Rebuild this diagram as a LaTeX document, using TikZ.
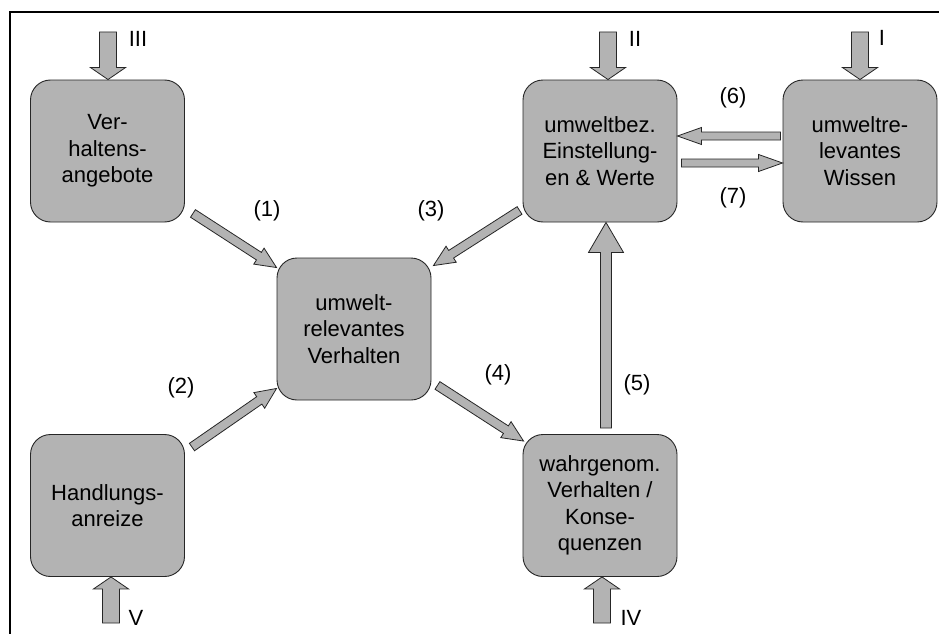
\documentclass[tikz,border=0pt]{standalone}
\usepackage{fontspec}
\setmainfont{Liberation Sans}
\usetikzlibrary{calc}
\definecolor{boxgray}{RGB}{179,179,179}
\newcommand\fatarrow[5]{%
  \coordinate (fa-h) at ($(#2)!#5!(#1)$);
  \draw[arrowshape] ($(#1)!#3!90:(#2)$) -- ($(fa-h)!#3!90:(#2)$) -- ($(fa-h)!#4!90:(#2)$)
    -- (#2) -- ($(fa-h)!#4!-90:(#2)$) -- ($(fa-h)!#3!-90:(#2)$) -- ($(#1)!#3!-90:(#2)$) -- cycle;}
\begin{document}
\begin{tikzpicture}[x=1pt,y=-1pt,
  box/.style={draw=black!85,line width=0.9pt,fill=boxgray,rounded corners=20pt,
    minimum width=154pt,minimum height=142pt,inner sep=0pt,align=center,
    font=\fontsize{22}{26.5}\selectfont},
  lbl/.style={inner sep=0pt,font=\fontsize{22}{26}\selectfont},
  arrowshape/.style={draw=black!85,line width=0.8pt,fill=boxgray,line join=miter}]
\useasboundingbox (0,0) rectangle (939,634);
\fill[white] (0,0) rectangle (939,634);
\draw[line width=1.5pt] (939,12) -- (10,12) -- (10,634);

% boxes
\node[box] (verh) at (107.5,151) {Ver-\\haltens-\\angebote};
\node[box] (mid) at (354,329) {umwelt-\\relevantes\\Verhalten};
\node[box] (hand) at (107.5,505.5) {Handlungs-\\anreize};
\node[box] (wahr) at (600,505.5) {wahrgenom.\\Verhalten /\\Konse-\\quenzen};
\node[box] (einst) at (600,151) {umweltbez.\\Einstellung-\\en \& Werte};
\node[box] (wiss) at (860,151) {umweltre-\\levantes\\Wissen};

% input arrows
\coordinate (inIII) at (108,32);
\coordinate (inII) at (608,32);
\coordinate (inI) at (860,32);
\coordinate (inV) at (111,623);
\coordinate (inIV) at (602,623);
\fatarrow{inIII}{verh.north -| inIII}{8.5pt}{17.5pt}{12pt}
\fatarrow{inII}{einst.north -| inII}{8.5pt}{17.5pt}{12pt}
\fatarrow{inI}{wiss.north -| inI}{8.5pt}{17.5pt}{12pt}
\fatarrow{inV}{hand.south -| inV}{8.5pt}{17.5pt}{12pt}
\fatarrow{inIV}{wahr.south -| inIV}{8.5pt}{17.5pt}{12pt}
\node[lbl] (tIII) at (138,39) {III};
\node[lbl] (tII) at (635,39) {II};
\node[lbl] (tI) at (882,38) {I};
\node[lbl] (tV) at (136,618) {V};
\node[lbl] (tIV) at (631,618) {IV};

% diagonal arrows
\coordinate (a1) at ($(verh.south east)+(8,-9)$);
\coordinate (b1) at ($(mid.north west)+(0,10)$);
\coordinate (a2) at ($(hand.north east)+(7,13)$);
\coordinate (b2) at ($(mid.south west)+(0,-12)$);
\coordinate (a3) at ($(einst.south west)+(-3,-12)$);
\coordinate (b3) at ($(mid.north east)+(2,8)$);
\coordinate (a4) at ($(mid.south east)+(6,-15)$);
\coordinate (b4) at ($(wahr.north west)+(1,7)$);
\fatarrow{a1}{b1}{4.5pt}{9.5pt}{21pt}
\fatarrow{a2}{b2}{4.5pt}{9.5pt}{21pt}
\fatarrow{a3}{b3}{4.5pt}{9.5pt}{21pt}
\fatarrow{a4}{b4}{4.5pt}{9.5pt}{21pt}

% vertical (5)
\coordinate (a5) at ($(wahr.north)+(6,-6)$);
\coordinate (b5) at ($(einst.south)+(6,0)$);
\fatarrow{a5}{b5}{5.5pt}{17.5pt}{30pt}

% horizontal (6),(7)
\coordinate (a6) at ($(wiss.west)+(-2,-15)$);
\coordinate (b6) at ($(einst.east)+(0,-15)$);
\coordinate (a7) at ($(einst.east)+(4,12)$);
\coordinate (b7) at ($(wiss.west)+(0,12)$);
\fatarrow{a6}{b6}{4pt}{8.5pt}{24pt}
\fatarrow{a7}{b7}{4pt}{8.5pt}{24pt}

% labels
\node[lbl] (l1) at (267,211) {(1)};
\node[lbl] (l2) at (181,388) {(2)};
\node[lbl] (l3) at (431,211) {(3)};
\node[lbl] (l4) at (498,375) {(4)};
\node[lbl] (l5) at (637,385) {(5)};
\node[lbl] (l6) at (733,98) {(6)};
\node[lbl] (l7) at (733,198) {(7)};
\end{tikzpicture}
\end{document}
